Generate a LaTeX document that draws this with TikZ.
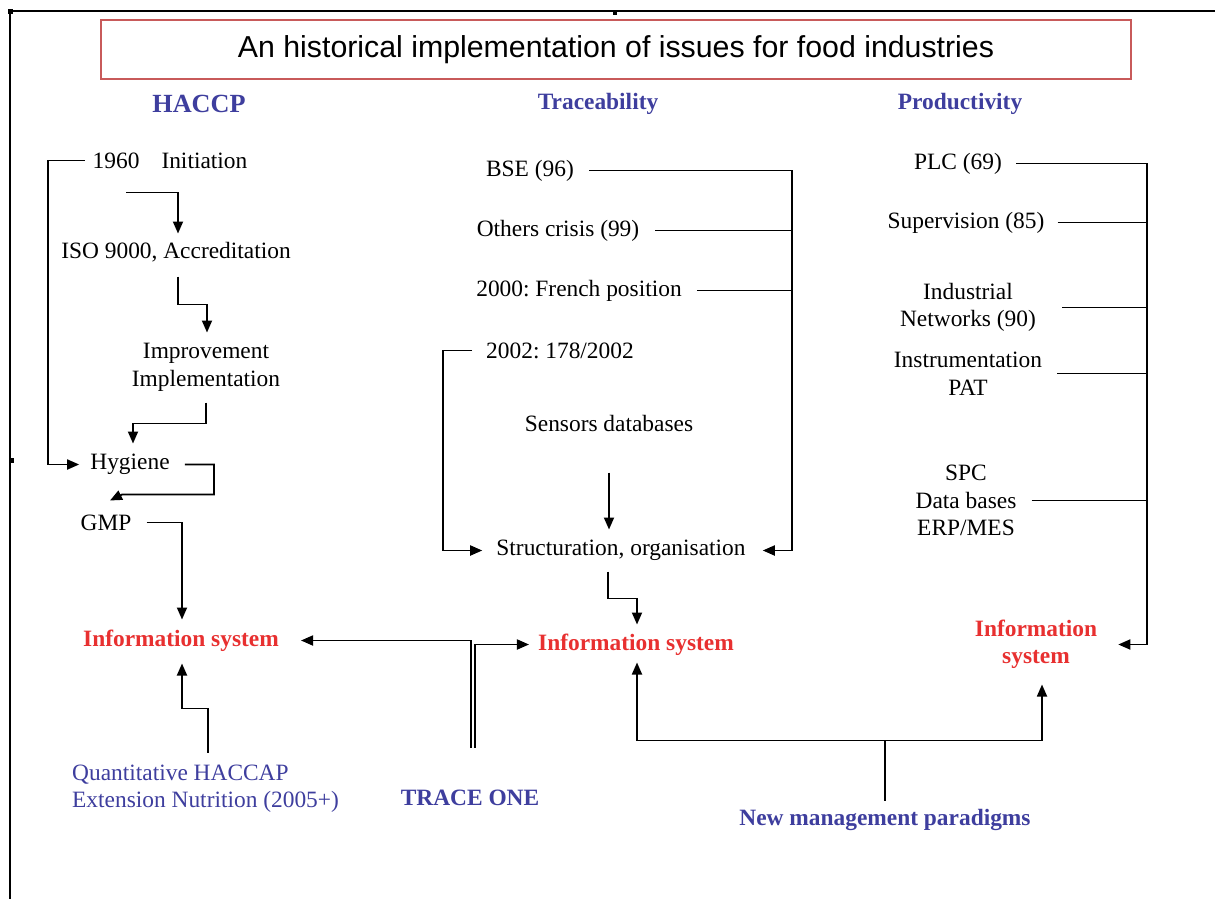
\documentclass[tikz,border=0pt]{standalone}
\usepackage{fontspec}
\setmainfont{Liberation Serif}
\newfontfamily\titlefont{Liberation Sans}
\usetikzlibrary{arrows.meta,calc}
\definecolor{hblue}{RGB}{62,62,158}
\definecolor{ired}{RGB}{232,48,48}
\definecolor{boxred}{RGB}{200,90,90}
\tikzset{
  body/.style={font=\frenchspacing\fontsize{23.4}{27.5}\selectfont, inner sep=0pt, align=center, yshift=-2.5pt},
  hd/.style={body, font=\fontsize{23.4}{27.5}\selectfont\bfseries, text=hblue},
  isys/.style={body, font=\fontsize{23.4}{27.5}\selectfont\bfseries, text=ired},
  ln/.style={line width=1.8pt},
  arr/.style={ln, -{Triangle[length=12pt,width=10pt]}},
}
\begin{document}
\begin{tikzpicture}[x=1pt,y=-1pt]
\useasboundingbox (0,0) rectangle (1215,899);
\fill[white] (0,0) rectangle (1215,899);
% frame
\draw[line width=1.3pt] (1215,11) -- (10,11) -- (10,899);
\fill (8,9) rectangle (13,14);
\fill (613,11) rectangle (617,15);
\fill (10,458) rectangle (14,463);
% title
\node[draw=boxred, line width=1.3pt, minimum width=1030pt, minimum height=59pt, inner sep=0pt,
      font=\titlefont\fontsize{30.3pt}{34pt}\selectfont] (title) at (616,49.5) {An historical implementation of issues for food industries};
% headings
\node[hd, font=\fontsize{26.2}{30}\selectfont\bfseries] (h1) at (199,101) {HACCP};
\node[hd] (h2) at (598,101) {Traceability};
\node[hd] (h3) at (960,101) {Productivity};
% HACCP column
\node[body] (n1960) at (170,158) {1960\hspace{22pt}Initiation};
\node[body] (iso) at (176,250) {ISO 9000, Accreditation};
\node[body] (impr) at (206,365) {Improvement\\Implementation};
\node[body] (hyg) at (130,462) {Hygiene};
\node[body] (gmp) at (106,520) {GMP};
\node[isys] (is1) at (181,638) {Information system};
\node[body, text=hblue, align=left, anchor=west] (quant) at (72,786) {Quantitative HACCAP\\Extension Nutrition (2005+)};
\node[hd] (trace) at (470,795) {TRACE ONE};
% Traceability column
\node[body] (bse) at (530,168) {BSE (96)};
\node[body] (oth) at (558,228) {Others crisis (99)};
\node[body] (fr) at (579,288) {2000: French position};
\node[body] (d2002) at (560,348) {2002: 178/2002};
\node[body] (sens) at (609,421) {Sensors databases};
\node[body] (struct) at (621,548) {Structuration, organisation};
\node[isys] (is2) at (636,642) {Information system};
\node[hd] (nmp) at (885,817) {New management paradigms};
% Productivity column
\node[body] (plc) at (958,161) {PLC (69)};
\node[body] (sup) at (966,220) {Supervision (85)};
\node[body] (ind) at (968,305) {Industrial\\Networks (90)};
\node[body] (inst) at (968,371) {Instrumentation\\PAT};
\node[body] (spc) at (966,498) {SPC\\Data bases\\ERP/MES};
\node[isys] (is3) at (1036,642) {Information\\system};
% spine coordinates
\coordinate (spL) at (48,0);
\coordinate (spM) at (443,0);
\coordinate (spT) at (792,0);
\coordinate (spP) at (1147,0);
% HACCP connectors
\draw[arr] ([xshift=-8pt]n1960.west) -| (spL |- hyg) -- ([xshift=-11pt]hyg.west);
\draw[arr] ([shift={(-44,32)}]n1960.center) -| ([shift={(2,-19)}]iso.center);
\draw[arr] ([shift={(2,24)}]iso.center) |- ([shift={(1,-63)}]impr.center) -- ([shift={(1,-35)}]impr.center);
\draw[arr] ([shift={(0,35)}]impr.center) |- ([shift={(3,-41)}]hyg.center) -- ([shift={(3,-21)}]hyg.center);
\draw[arr] ([xshift=15pt]hyg.east) -| ([shift={(84,30)}]hyg.center) -- ([shift={(16,-28)}]gmp.center) -- ([shift={(4,-22)}]gmp.center);
\draw[arr] ([xshift=15pt]gmp.east) -| ([shift={(1,-21)}]is1.center);
\draw[arr] ([shift={(136,-36)}]quant.west) |- ([shift={(1,68)}]is1.center) -- ([shift={(1,23)}]is1.center);
% TRACE ONE double connector
\draw[arr] ([shift={(1,-50)}]trace.center) |- ([xshift=22pt]is1.east);
\draw[arr] ([shift={(5,-50)}]trace.center) |- ([xshift=-9pt]is2.west);
% Traceability connectors
\draw[arr] ([xshift=15pt]bse.east) -| (spT |- struct) -- ([xshift=17pt]struct.east);
\draw[ln] ([xshift=16pt]oth.east) -- (oth.east -| spT);
\draw[ln] ([xshift=15pt]fr.east) -- (fr.east -| spT);
\draw[arr] ([xshift=-14pt]d2002.west) -| (spM |- struct) -- ([xshift=-14pt]struct.west);
\draw[arr] ([yshift=-49pt]sens.center) -- ++(0,57);
\draw[arr] ([shift={(-13,21)}]struct.center) |- ([shift={(1,-46)}]is2.center) -- ([shift={(1,-20)}]is2.center);
\draw[arr] ([yshift=19pt]nmp.center) |- ([shift={(1,96)}]is2.center) -- ([shift={(1,18)}]is2.center);
\draw[arr] ([yshift=79pt]nmp.center) -| ([shift={(6,40)}]is3.center);
% Productivity connectors
\draw[arr] ([xshift=14pt]plc.east) -| (spP |- is3) -- ([xshift=21pt]is3.east);
\draw[ln] ([xshift=13pt]sup.east) -- (sup.east -| spP);
\draw[ln] ([xshift=26pt]ind.east) -- (ind.east -| spP);
\draw[ln] ([xshift=15pt]inst.east) -- (inst.east -| spP);
\draw[ln] ([xshift=15pt]spc.east) -- (spc.east -| spP);
\end{tikzpicture}
\end{document}
